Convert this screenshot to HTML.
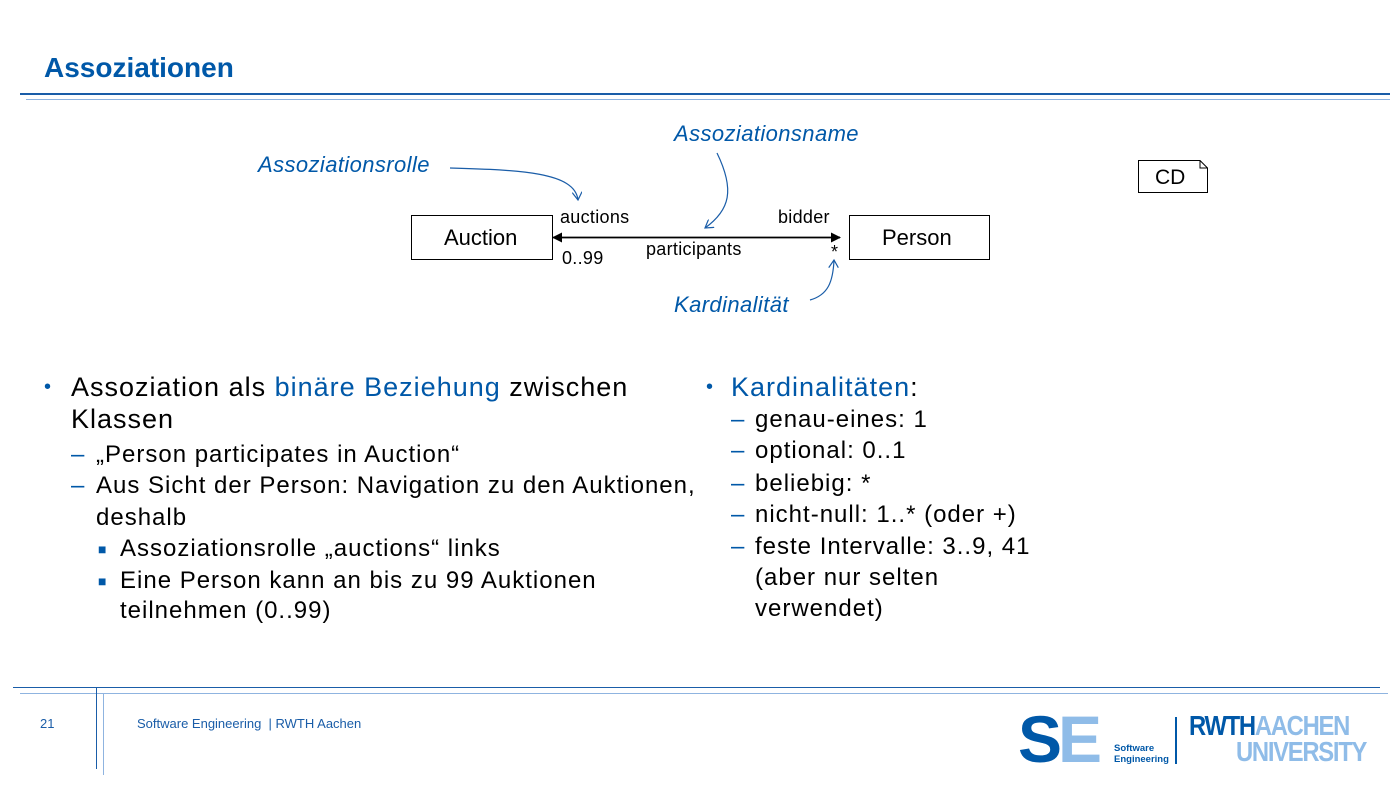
<!DOCTYPE html>
<html><head><meta charset="utf-8"><style>
body{margin:0;width:1400px;height:788px;position:relative;background:#fff;font-family:"Liberation Sans",Arial,sans-serif;overflow:hidden}
.a{position:absolute;white-space:nowrap}
.l{position:absolute;height:32px;line-height:32px;white-space:nowrap;color:#000}
.m{font-size:27px;letter-spacing:1px}
.s{font-size:24px;letter-spacing:1px}
.b{color:#0058a8}
.it{font-style:italic;color:#0058a8;font-size:22px;letter-spacing:0.4px}
.d{font-size:18px;letter-spacing:0.3px}
</style></head><body>
<div class="a" style="left:44px;top:52px;font-size:28px;font-weight:bold;color:#0058a8">Assoziationen</div>
<div class="a" style="left:20px;top:93px;width:1370px;height:2px;background:#1a5da8"></div>
<div class="a" style="left:26px;top:99px;width:1364px;height:1px;background:#8fb4e0"></div>

<svg class="a" style="left:0;top:0" width="1400" height="788">
<defs><marker id="ah" markerWidth="10" markerHeight="10" refX="9" refY="5" orient="auto" markerUnits="userSpaceOnUse"><path d="M0,0 L10,5 L0,10 z" fill="#000"/></marker>
<marker id="ab" markerWidth="10" markerHeight="10" refX="8" refY="5" orient="auto" markerUnits="userSpaceOnUse"><path d="M0,0 L8,5 L0,10" fill="none" stroke="#1a5da8" stroke-width="1.2"/></marker></defs>
<rect x="411.5" y="215.5" width="141" height="44" fill="#fff" stroke="#000"/>
<rect x="849.5" y="215.5" width="140" height="44" fill="#fff" stroke="#000"/>
<line x1="562" y1="237.5" x2="840" y2="237.5" stroke="#000" stroke-width="1.5" marker-end="url(#ah)"/>
<line x1="840" y1="237.5" x2="553" y2="237.5" stroke="#000" stroke-width="1.5" marker-end="url(#ah)"/>
<path d="M450,168 C520,170 575,172 578,200" fill="none" stroke="#1a5da8" stroke-width="1.2" marker-end="url(#ab)"/>
<path d="M717,153 C735,190 730,210 705,228" fill="none" stroke="#1a5da8" stroke-width="1.2" marker-end="url(#ab)"/>
<path d="M810,300 C828,295 833,282 834,260" fill="none" stroke="#1a5da8" stroke-width="1.2" marker-end="url(#ab)"/>
<path d="M1138.5,160.5 H1200 L1207.5,168 V192.5 H1138.5 Z" fill="#fff" stroke="#000"/>
<path d="M1200,160.5 V168 H1207.5" fill="none" stroke="#000"/>
</svg>
<div class="a" style="left:444px;top:225px;font-size:22px;line-height:26px">Auction</div>
<div class="a" style="left:882px;top:225px;font-size:22px;line-height:26px">Person</div>
<div class="a" style="left:1155px;top:165px;font-size:21px;line-height:26px">CD</div>
<div class="a d" style="left:560px;top:207px">auctions</div>
<div class="a d" style="left:778px;top:207px">bidder</div>
<div class="a d" style="left:646px;top:239px">participants</div>
<div class="a d" style="left:562px;top:248px">0..99</div>
<div class="a d" style="left:831px;top:242px">*</div>
<div class="a it" style="left:258px;top:152px">Assoziationsrolle</div>
<div class="a it" style="left:674px;top:121px">Assoziationsname</div>
<div class="a it" style="left:674px;top:292px">Kardinalität</div>

<div class="l m" style="left:44px;top:371px;color:#0058a8;font-size:20px">•</div>
<div class="l m" style="left:71px;top:371px">Assoziation als <span class="b">binäre Beziehung</span> zwischen</div>
<div class="l m" style="left:71px;top:403px">Klassen</div>
<div class="l s" style="left:71px;top:439px;color:#0058a8">–</div>
<div class="l s" style="left:96px;top:439px">„Person participates in Auction“</div>
<div class="l s" style="left:71px;top:470px;color:#0058a8">–</div>
<div class="l s" style="left:96px;top:470px">Aus Sicht der Person: Navigation zu den Auktionen,</div>
<div class="l s" style="left:96px;top:502px">deshalb</div>
<div class="l s" style="left:98px;top:533px;color:#0058a8;font-size:14px">■</div>
<div class="l s" style="left:120px;top:533px">Assoziationsrolle „auctions“ links</div>
<div class="l s" style="left:98px;top:565px;color:#0058a8;font-size:14px">■</div>
<div class="l s" style="left:120px;top:565px">Eine Person kann an bis zu 99 Auktionen</div>
<div class="l s" style="left:120px;top:595px">teilnehmen (0..99)</div>

<div class="l m" style="left:706px;top:371px;color:#0058a8;font-size:20px">•</div>
<div class="l m" style="left:731px;top:371px"><span class="b">Kardinalitäten</span>:</div>
<div class="l s" style="left:731px;top:404px;color:#0058a8">–</div><div class="l s" style="left:755px;top:404px">genau-eines: 1</div>
<div class="l s" style="left:731px;top:435px;color:#0058a8">–</div><div class="l s" style="left:755px;top:435px">optional: 0..1</div>
<div class="l s" style="left:731px;top:468px;color:#0058a8">–</div><div class="l s" style="left:755px;top:468px">beliebig: *</div>
<div class="l s" style="left:731px;top:499px;color:#0058a8">–</div><div class="l s" style="left:755px;top:499px">nicht-null: 1..* (oder +)</div>
<div class="l s" style="left:731px;top:531px;color:#0058a8">–</div><div class="l s" style="left:755px;top:531px">feste Intervalle: 3..9, 41</div>
<div class="l s" style="left:755px;top:562px">(aber nur selten</div>
<div class="l s" style="left:755px;top:593px">verwendet)</div>

<div class="a" style="left:13px;top:687px;width:1367px;height:1px;background:#1a5da8"></div>
<div class="a" style="left:20px;top:693px;width:1368px;height:1px;background:#8fb4e0"></div>
<div class="a" style="left:96px;top:687px;width:1px;height:82px;background:#1a5da8"></div>
<div class="a" style="left:103px;top:693px;width:1px;height:82px;background:#8fb4e0"></div>
<div class="a" style="left:40px;top:716px;font-size:13px;color:#1a5da8">21</div>
<div class="a" style="left:137px;top:716px;font-size:13px;color:#1a5da8">Software Engineering &nbsp;| RWTH Aachen</div>

<div class="a" style="left:1018px;top:706px;font-size:66px;font-weight:bold;line-height:66px;letter-spacing:-4px;color:#0058a8">S<span style="color:#8fbce8">E</span></div>
<div class="a" style="left:1114px;top:743px;font-size:9.5px;font-weight:bold;color:#0058a8;line-height:11px">Software<br>Engineering</div>
<div class="a" style="left:1175px;top:717px;width:2px;height:47px;background:#0058a8"></div>
<div class="a" style="left:1189px;top:713px;font-size:28px;font-weight:bold;line-height:26px;letter-spacing:-1.5px;transform:scaleX(0.85);transform-origin:left"><span style="color:#0058a8">RWTH</span><span style="color:#8fbce8">AACHEN</span></div>
<div class="a" style="left:1236px;top:739px;font-size:28px;font-weight:bold;line-height:26px;letter-spacing:-1.5px;color:#8fbce8;transform:scaleX(0.85);transform-origin:left">UNIVERSITY</div>
</body></html>
